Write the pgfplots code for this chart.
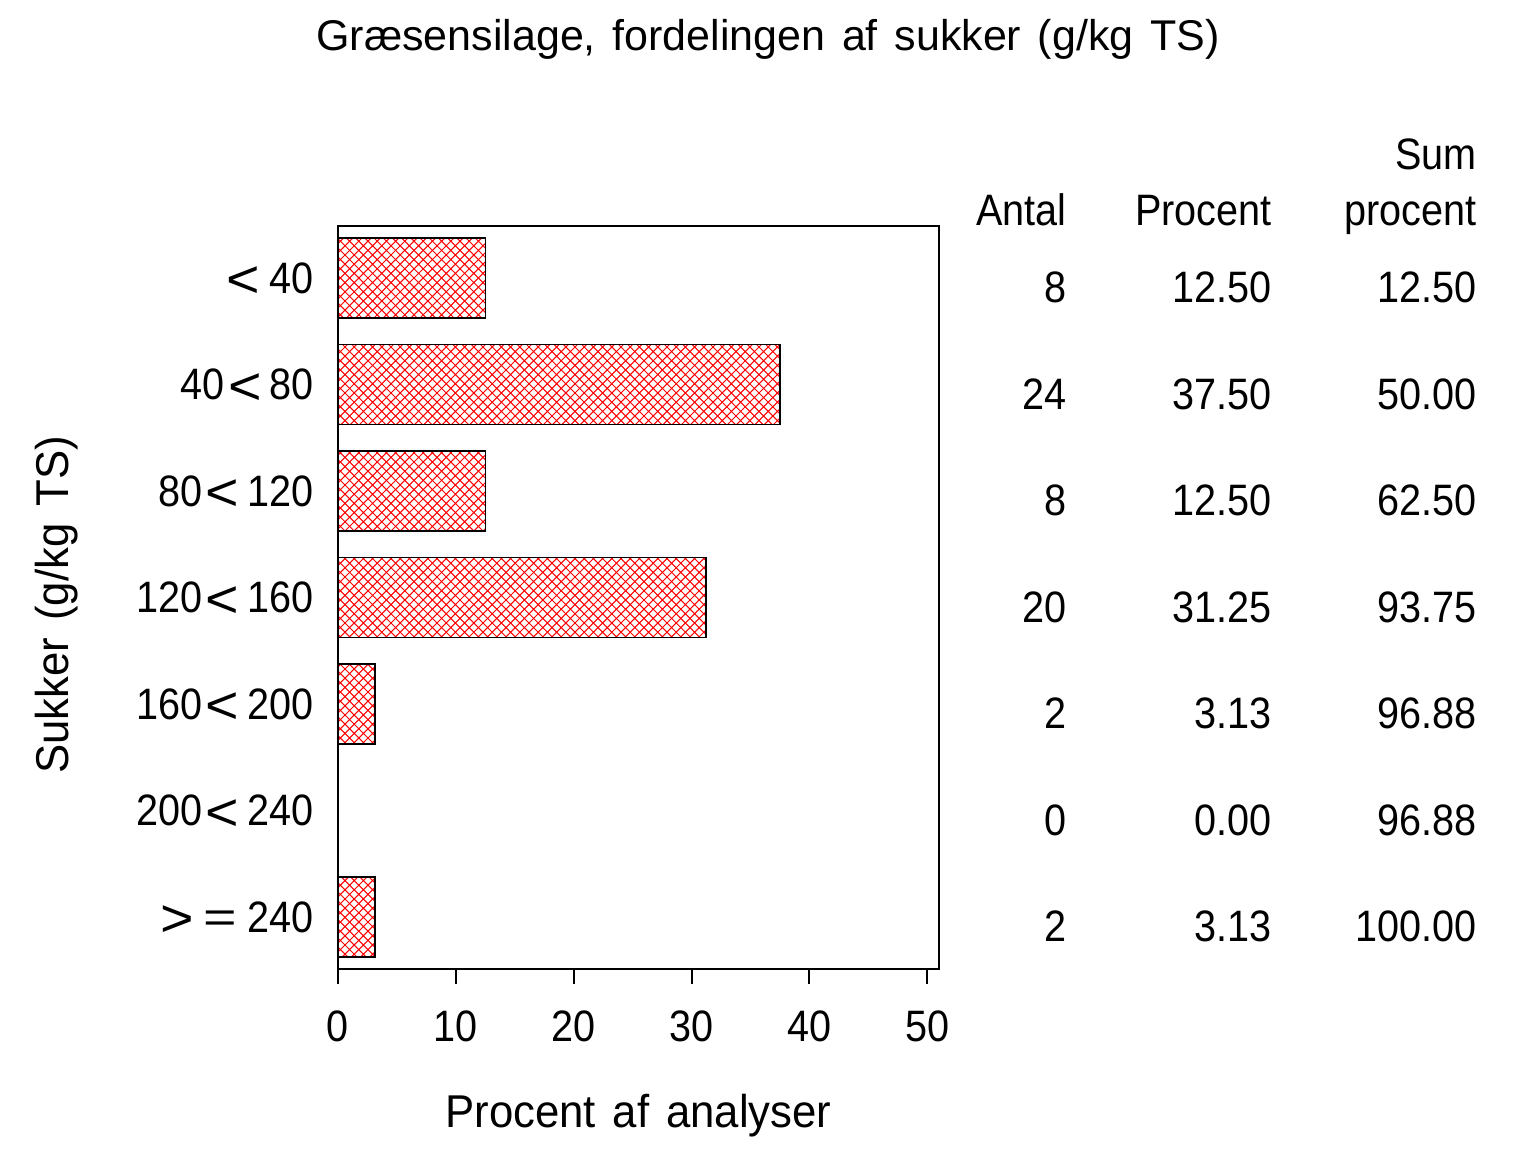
\documentclass[border=0pt]{standalone}
\usepackage{fontspec}
\setmainfont{Liberation Sans}[FakeStretch=0.9]
\newfontfamily\titlefamily{Liberation Sans}[WordSpace=1.4]
\newfontfamily\labelfamily{Liberation Sans}[FakeStretch=0.95, WordSpace=1.4]
\usepackage{graphicx}
\usepackage{pgfplots}
\pgfplotsset{compat=1.18}
\usepackage{pgfplotstable}
\usetikzlibrary{patterns}

\pgfdeclarepatternformonly{diagcross}{\pgfqpoint{-1pt}{-1pt}}{\pgfqpoint{5.6pt}{5.6pt}}{\pgfqpoint{4.6pt}{4.6pt}}{%
  \pgfsetlinewidth{0.5pt}%
  \pgfpathmoveto{\pgfqpoint{-0.1pt}{-0.1pt}}\pgfpathlineto{\pgfqpoint{4.7pt}{4.7pt}}%
  \pgfpathmoveto{\pgfqpoint{-0.1pt}{4.7pt}}\pgfpathlineto{\pgfqpoint{4.7pt}{-0.1pt}}%
  \pgfusepath{stroke}}

\newcommand\tf{\fontsize{22}{26}\selectfont}
\newcommand\lf{\labelfamily\fontsize{23}{27}\selectfont}
\newcommand\ttlf{\titlefamily\fontsize{21.5}{25}\selectfont}
\newcommand\LT{\raisebox{-2.3pt}[0pt][0pt]{\scalebox{1.45}[1.2]{<}}}
\newcommand\GT{\raisebox{-2.3pt}[0pt][0pt]{\scalebox{1.45}[1.2]{>}}}
\newcommand\EQ{\raisebox{0pt}[0pt][0pt]{\scalebox{1.45}[1.0]{=}}}
\newcommand\rng[2]{#1\hspace{1.5pt}\LT\hspace{4pt}#2}

\pgfplotstableread{
pos pct antal proc sum
0 12.5 8 12.50 12.50
1 37.5 24 37.50 50.00
2 12.5 8 12.50 62.50
3 31.25 20 31.25 93.75
4 3.13 2 3.13 96.88
5 0 0 0.00 96.88
6 3.13 2 3.13 100.00
}\datatable

\begin{document}
\begin{tikzpicture}
\useasboundingbox (0,0) rectangle (768pt,576pt);
\begin{axis}[
  at={(169pt,91.5pt)}, anchor=south west,
  scale only axis, width=300.5pt, height=371.5pt,
  xmin=0, xmax=51, ymin=-0.49, ymax=6.49, y dir=reverse,
  axis line style={line width=1pt},
  xtick={0,10,20,30,40,50}, xtick pos=bottom, tick align=outside,
  major tick length=7.5pt, tick style={line width=1pt, black},
  ytick={0,1,2,3,4,5,6},
  yticklabels={{\LT\hspace{5pt}40},{\rng{40}{80}},{\rng{80}{120}},{\rng{120}{160}},{\rng{160}{200}},{\rng{200}{240}},{\GT\hspace{5pt}\EQ\hspace{5pt}240}},
  ytick style={draw=none},
  /pgf/number format/assume math mode=true,
  tick label style={font=\tf},
  xticklabel style={anchor=north, inner sep=0pt, yshift=-13pt},
  yticklabel style={anchor=east, inner sep=0pt, xshift=-4.5pt},
  xlabel={Procent af analyser},
  ylabel={Sukker (g/kg TS)},
  every axis x label/.style={at={(axis description cs:0.5,0)}, anchor=base, inner sep=0pt, yshift=-79pt, font=\lf},
  every axis y label/.style={at={(axis description cs:-0.4484,0.49)}, rotate=90, anchor=base, inner sep=0pt, font=\lf},
  clip=false,
]
\addplot[xbar, bar width=0.75, draw=black, line width=0.8pt, pattern=diagcross, pattern color=red]
  table[x=pct, y=pos] \datatable;
\addplot[draw=none, mark=none, nodes near coords, point meta=explicit symbolic,
  every node near coord/.append style={anchor=east, inner sep=0pt, font=\tf}]
  table[x expr=61.85, y expr=\thisrow{pos}+0.09, meta=antal] \datatable;
\addplot[draw=none, mark=none, nodes near coords, point meta=explicit symbolic,
  every node near coord/.append style={anchor=east, inner sep=0pt, font=\tf}]
  table[x expr=79.25, y expr=\thisrow{pos}+0.09, meta=proc] \datatable;
\addplot[draw=none, mark=none, nodes near coords, point meta=explicit symbolic,
  every node near coord/.append style={anchor=east, inner sep=0pt, font=\tf}]
  table[x expr=96.65, y expr=\thisrow{pos}+0.09, meta=sum] \datatable;
\node[anchor=base east, inner sep=0pt, font=\tf] at (axis cs:61.85,-0.49) {Antal};
\node[anchor=base east, inner sep=0pt, font=\tf] at (axis cs:79.25,-0.49) {Procent};
\node[anchor=base east, inner sep=0pt, font=\tf] at (axis cs:96.65,-0.49) {procent};
\node[anchor=base east, inner sep=0pt, font=\tf] at (axis cs:96.65,-1.017) {Sum};
\end{axis}
\node[anchor=base, inner sep=0pt, font=\ttlf] at (384pt,550.5pt) {Græsensilage, fordelingen af sukker (g/kg TS)};
\end{tikzpicture}
\end{document}
